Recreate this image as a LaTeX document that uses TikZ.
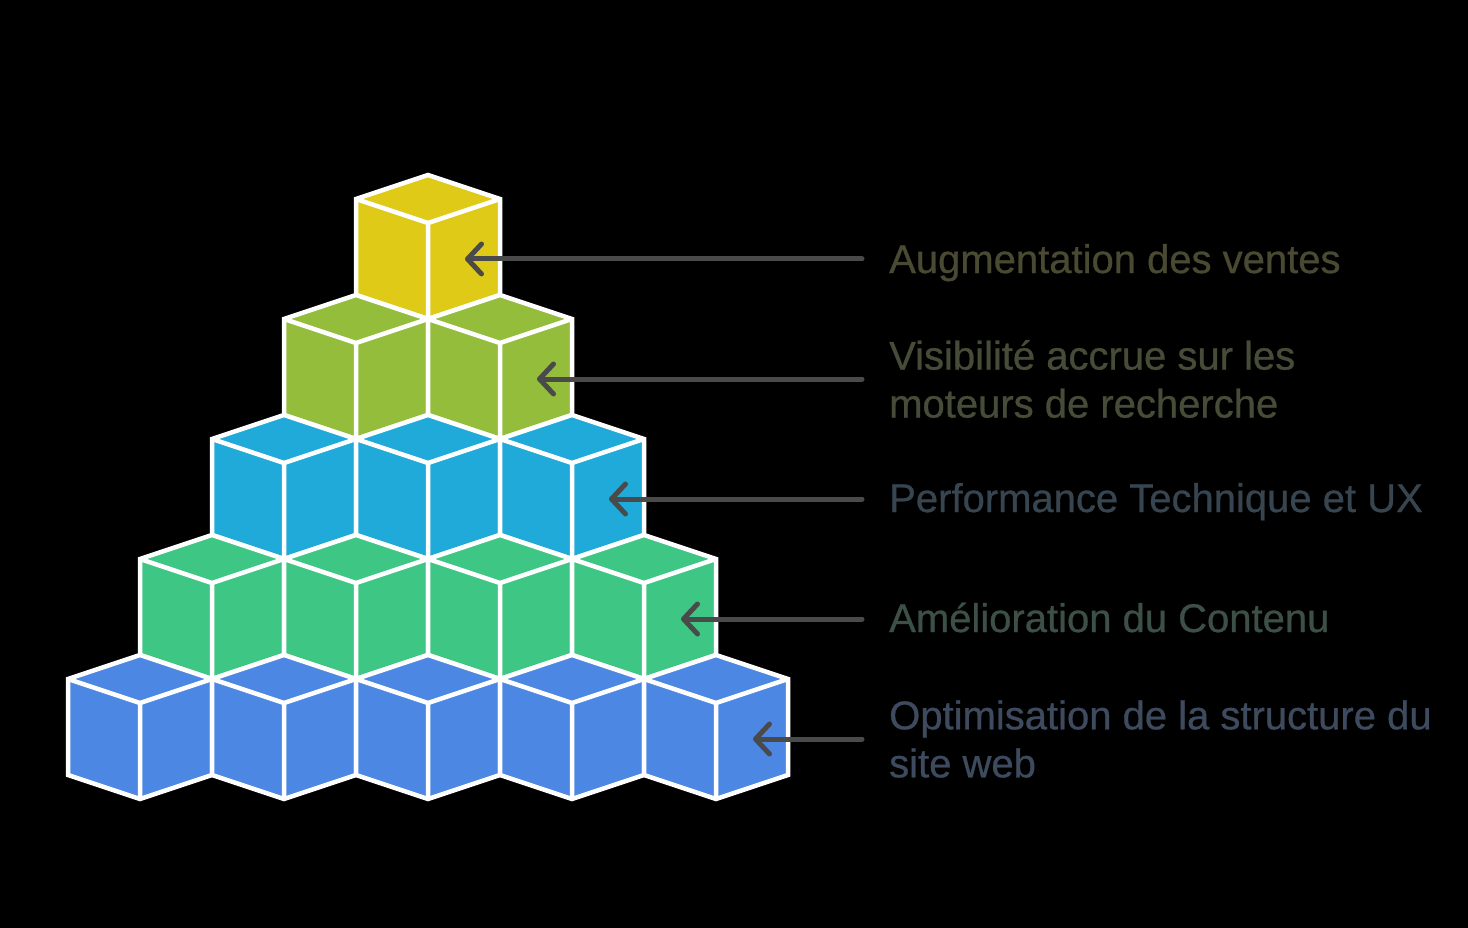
\documentclass[tikz,border=0pt]{standalone}
\usepackage{fontspec}
\setmainfont{Liberation Sans}
\newfontfamily\tagfont[FakeBold=0.7]{Liberation Sans}
\usepackage{xcolor}
\usetikzlibrary{positioning,arrows.meta,calc}

\definecolor{cubeyellow}{HTML}{E0CA18}
\definecolor{cubeolive}{HTML}{93BD3B}
\definecolor{cubecyan}{HTML}{1FAAD9}
\definecolor{cubegreen}{HTML}{3EC684}
\definecolor{cubeblue}{HTML}{4C87E3}
\definecolor{txtyellow}{HTML}{4A4A33}
\definecolor{txtolive}{HTML}{464C38}
\definecolor{txtcyan}{HTML}{36454F}
\definecolor{txtgreen}{HTML}{3D5047}
\definecolor{txtblue}{HTML}{3E4A5E}
\definecolor{pointergray}{HTML}{4A4A4A}

\tikzset{
	cubeface/.style={draw=white, line width=4.5pt, line join=miter},
	pointer/.style={draw=pointergray, line width=5pt, line cap=round, -{Straight Barb[length=14pt,width=30pt,round]}},
	tagtext/.style={inner sep=0pt, align=left, font=\tagfont\fontsize{40}{48}\selectfont}
}

\newcommand{\blockcube}[3]{%
	\filldraw[cubeface, fill=#3] (#1,#2) -- ++(72,24) -- ++(0,96) -- ++(-72,24) -- ++(-72,-24) -- ++(0,-96) -- cycle;
	\draw[cubeface] (#1-72,#2+24) -- (#1,#2+48) -- (#1+72,#2+24) (#1,#2+48) -- (#1,#2+144);
}

\begin{document}
\begin{tikzpicture}[x=1pt, y=-1pt]
	\fill[black] (0,0) rectangle (1468,928);
	\useasboundingbox (0,0) rectangle (1468,928);

	\blockcube{428}{175}{cubeyellow}

	\blockcube{356}{295}{cubeolive}
	\blockcube{500}{295}{cubeolive}

	\blockcube{284}{415}{cubecyan}
	\blockcube{428}{415}{cubecyan}
	\blockcube{572}{415}{cubecyan}

	\blockcube{212}{535}{cubegreen}
	\blockcube{356}{535}{cubegreen}
	\blockcube{500}{535}{cubegreen}
	\blockcube{644}{535}{cubegreen}

	\blockcube{140}{655}{cubeblue}
	\blockcube{284}{655}{cubeblue}
	\blockcube{428}{655}{cubeblue}
	\blockcube{572}{655}{cubeblue}
	\blockcube{716}{655}{cubeblue}

	\node[tagtext, text=txtyellow, anchor=base west] (ventes) at (889,273) {Augmentation des ventes};
	\node[tagtext, text=txtolive, anchor=west] (visibilite) at (889,379) {Visibilité accrue sur les\\moteurs de recherche};
	\node[tagtext, text=txtcyan, anchor=base west] (performance) at (889,512) {Performance Technique et UX};
	\node[tagtext, text=txtgreen, anchor=base west] (contenu) at (889,632) {Amélioration du Contenu};
	\node[tagtext, text=txtblue, anchor=west] (structure) at (889,739) {Optimisation de la structure du\\site web};

	\coordinate (tipventes) at (465,259);
	\coordinate (tipvisibilite) at (537,379);
	\coordinate (tipperformance) at (609,499);
	\coordinate (tipcontenu) at (681,619);
	\coordinate (tipstructure) at (753,739);

	\draw[pointer] (tipventes -| ventes.west) ++(-27,0) -- (tipventes);
	\draw[pointer] (tipvisibilite -| visibilite.west) ++(-27,0) -- (tipvisibilite);
	\draw[pointer] (tipperformance -| performance.west) ++(-27,0) -- (tipperformance);
	\draw[pointer] (tipcontenu -| contenu.west) ++(-27,0) -- (tipcontenu);
	\draw[pointer] (tipstructure -| structure.west) ++(-27,0) -- (tipstructure);
\end{tikzpicture}
\end{document}
